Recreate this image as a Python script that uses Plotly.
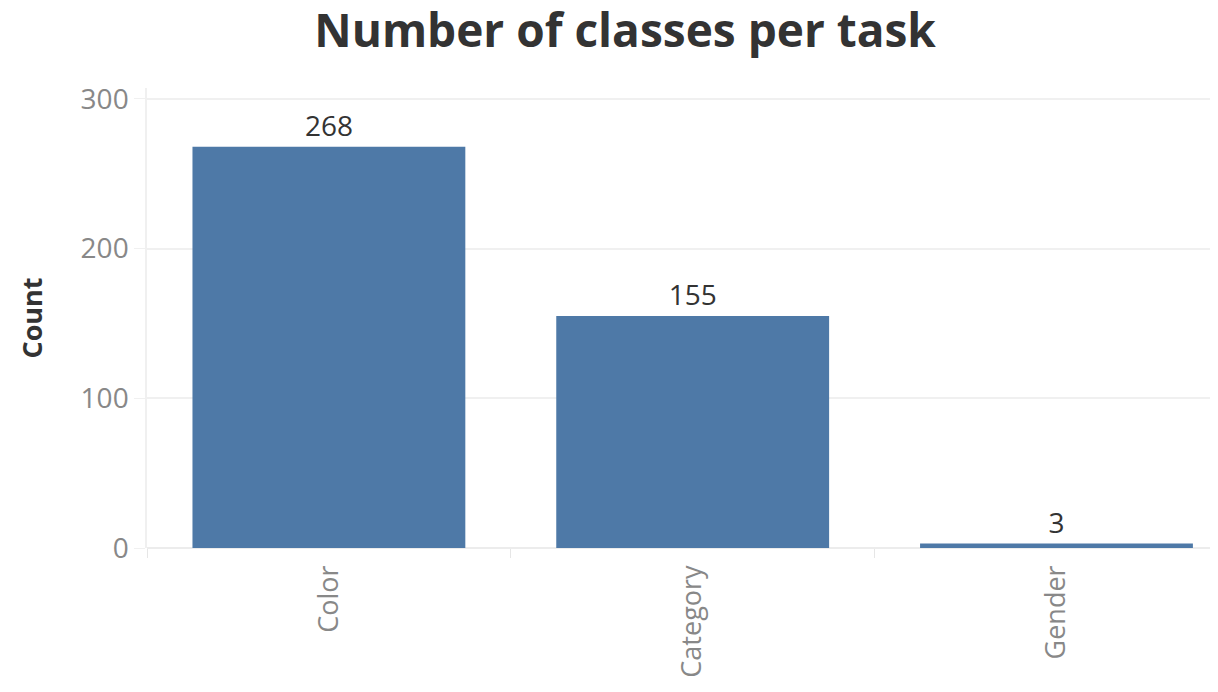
import plotly.graph_objects as go

categories = ["Color", "Category", "Gender"]
counts = [268, 155, 3]
y_ticks = [0, 100, 200, 300]

fig = go.Figure()
fig.add_trace(go.Bar(
    x=categories, y=counts,
    marker=dict(color="#4E79A7", line=dict(width=0)),
    text=[str(v) for v in counts], textposition="outside",
    textfont=dict(family="Open Sans", size=28, color="#333333"),
    cliponaxis=False,
))

fig.update_layout(
    width=1210, height=684,
    paper_bgcolor="white", plot_bgcolor="white",
    margin=dict(l=139, r=0, t=80, b=144),
    bargap=0.25,
    showlegend=False,
    title=dict(text="<b>Number of classes per task</b>", x=0.51, xanchor="center",
               yref="container", y=0.967, yanchor="middle",
               font=dict(family="Open Sans", size=46, color="#333333")),
    xaxis=dict(range=[-0.5, 2.444], tickangle=-90,
               tickfont=dict(family="Open Sans", size=27, color="#888888"),
               showgrid=False, showline=False, zeroline=False,
               ticks="outside", tickson="boundaries", ticklen=9, tickcolor="#e6e6e6",
               ticklabelstandoff=11),
    yaxis=dict(range=[0, 307.3], tickvals=y_ticks,
               tickfont=dict(family="Open Sans", size=28, color="#888888"),
               showgrid=True, gridcolor="#f0f0f0", gridwidth=1.5,
               zeroline=True, zerolinecolor="#ececec", zerolinewidth=1.5,
               showline=True, linecolor="#f0f0f0", linewidth=1.5,
               ticks="outside", ticklen=11, tickcolor="#f0f0f0",
               title=dict(text="<b>Count</b>", standoff=30,
                          font=dict(family="Open Sans", size=27, color="#333333"))),
)

fig.write_html("out.html")
